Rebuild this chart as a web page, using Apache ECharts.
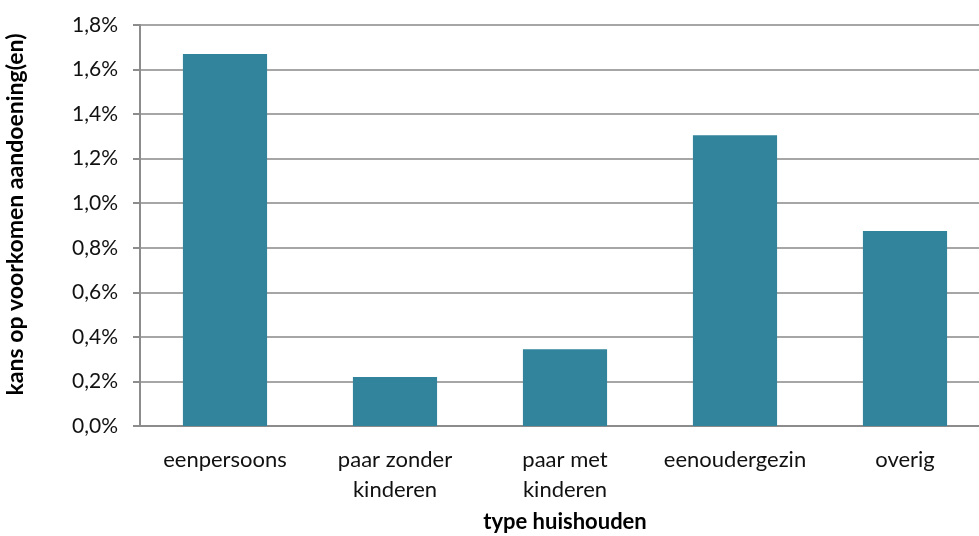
<!DOCTYPE html>
<html>
<head>
<meta charset="utf-8">
<script src="https://cdn.jsdelivr.net/npm/echarts@6/dist/echarts.min.js"></script>
<style>html,body{margin:0;padding:0;background:#fff;overflow:hidden;}#c{width:979px;height:536px;}</style>
</head>
<body>
<div id="c"></div>
<script>
const categories = ['eenpersoons', 'paar zonder\nkinderen', 'paar met\nkinderen', 'eenoudergezin', 'overig'];
const values = [1.67, 0.22, 0.345, 1.305, 0.875];
const yTicks = { min: 0, max: 1.8, interval: 0.2 };
const xTitle = 'type huishouden';
const yTitle = 'kans op voorkomen aandoening(en)';

const font = 'Lato, "Open Sans", sans-serif';
const chart = echarts.init(document.getElementById('c'), null, { renderer: 'canvas' });
chart.setOption({
  animation: false,
  backgroundColor: '#fff',
  grid: { left: 140, right: -11, top: 25, bottom: 110, containLabel: false, outerBoundsMode: 'none' },
  xAxis: {
    type: 'category',
    data: categories,
    axisLine: { show: true, lineStyle: { color: '#8c8c8c', width: 2 } },
    axisTick: { show: false },
    axisLabel: { interval: 0, color: '#111', fontSize: 22, fontFamily: font, margin: 19, lineHeight: 30, hideOverlap: false },
    name: xTitle,
    nameLocation: 'middle',
    nameGap: 85,
    nameTextStyle: { color: '#000', fontSize: 22, fontWeight: 'bold', fontFamily: font }
  },
  yAxis: {
    type: 'value',
    min: yTicks.min, max: yTicks.max, interval: yTicks.interval,
    axisLine: { show: true, lineStyle: { color: '#8c8c8c', width: 2 } },
    axisTick: { show: true, length: 7, lineStyle: { color: '#8c8c8c', width: 2 } },
    splitLine: { show: true, lineStyle: { color: '#a6a6a6', width: 2 } },
    axisLabel: {
      color: '#111', fontSize: 21, fontFamily: font, margin: 22,
      formatter: v => v.toFixed(1).replace('.', ',') + '%'
    },
    name: yTitle,
    nameLocation: 'middle',
    nameGap: 113,
    nameRotate: 90,
    nameTextStyle: { color: '#000', fontSize: 23, fontWeight: 'bold', fontFamily: font, padding: [0, 0, 0, 22] }
  },
  series: [{
    type: 'bar',
    data: values,
    barWidth: '49.5%',
    itemStyle: { color: '#31849b' }
  }]
});
</script>
</body>
</html>
